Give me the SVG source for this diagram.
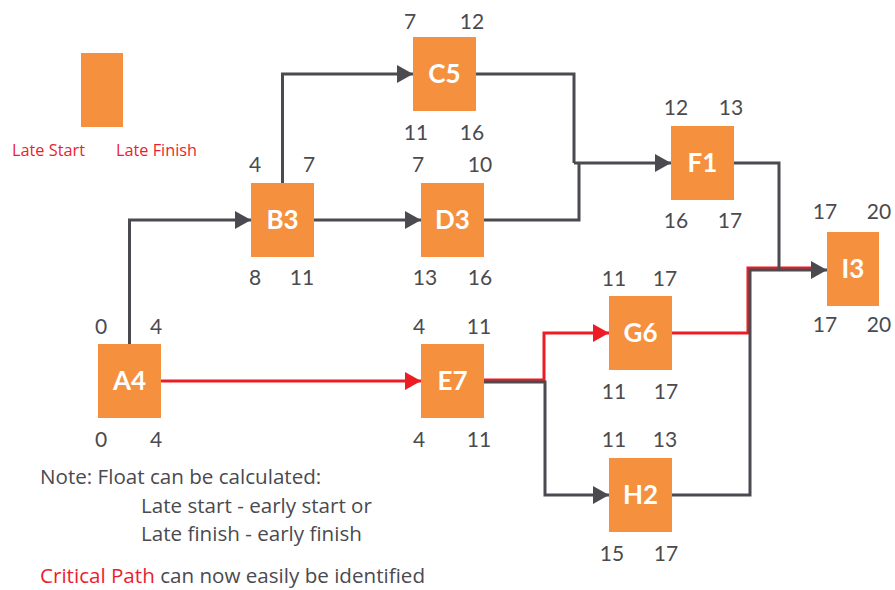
<svg xmlns="http://www.w3.org/2000/svg" width="895" height="590" viewBox="0 0 895 590">
<defs>
<style>
.box{fill:#F5903F}
.lbl{font-family:Lato,"Noto Sans",sans-serif;font-weight:bold;font-size:26px;fill:#fff;text-anchor:middle}
.num{font-family:Lato,"Noto Sans",sans-serif;font-size:21px;fill:#4a4a4f;text-anchor:middle}
.note{font-family:"Open Sans","Noto Sans",sans-serif;font-size:20.6px;fill:#4a4a4f}
.leg{font-family:"Open Sans","Noto Sans",sans-serif;font-size:16.3px;fill:#ED1C2E}
.c{fill:none;stroke:#4a4a50;stroke-width:3}
.cr{fill:none;stroke:#ED1C24;stroke-width:3}
</style>
<marker id="ah" markerWidth="16" markerHeight="18" refX="16" refY="9" orient="auto" markerUnits="userSpaceOnUse"><path d="M0,0 L16,9 L0,18 Z" fill="#4a4a50"/></marker>
<marker id="ahr" markerWidth="16" markerHeight="18" refX="16" refY="9" orient="auto" markerUnits="userSpaceOnUse"><path d="M0,0 L16,9 L0,18 Z" fill="#ED1C24"/></marker>
</defs>
<rect width="895" height="590" fill="#fff"/>
<g id="legend">
<rect class="box" x="81" y="53" width="42" height="74"/>
<text class="leg" x="12" y="156">Late Start</text>
<text class="leg" x="116" y="156">Late Finish</text>
</g>
<g id="connectors">
<path class="c" d="M129.5,344 V220 H251" marker-end="url(#ah)"/>
<path class="c" d="M282.5,183 V74 H413" marker-end="url(#ah)"/>
<path class="c" d="M314,220 H421" marker-end="url(#ah)"/>
<path class="c" d="M476,74 H574 V163"/>
<path class="c" d="M484,220 H579 V163"/>
<path class="c" d="M574,163 H671" marker-end="url(#ah)"/>
<path class="cr" d="M161,381 H421" marker-end="url(#ahr)"/>
<path class="cr" d="M484,380 H544 V333 H609" marker-end="url(#ahr)"/>
<path class="c" d="M484,382 H545 V495 H609" marker-end="url(#ah)"/>
<path class="cr" d="M672,333 H748 V268 H812"/>
<path class="c" d="M672,495 H750 V270 H827" marker-end="url(#ah)"/>
<path class="c" d="M734,163 H779 V269"/>
</g>
<g id="A4"><rect class="box" x="98" y="344" width="63" height="74"/><text class="lbl" x="129.5" y="390">A4</text>
<text class="num" x="101" y="334">0</text><text class="num" x="156" y="334">4</text><text class="num" x="101" y="447">0</text><text class="num" x="156" y="447">4</text></g>
<g id="B3"><rect class="box" x="251" y="183" width="63" height="74"/><text class="lbl" x="282.5" y="229">B3</text>
<text class="num" x="255" y="172">4</text><text class="num" x="309" y="172">7</text><text class="num" x="255" y="285">8</text><text class="num" x="302" y="285">11</text></g>
<g id="C5"><rect class="box" x="413" y="37" width="63" height="74"/><text class="lbl" x="444.5" y="83">C5</text>
<text class="num" x="410" y="29">7</text><text class="num" x="472" y="29">12</text><text class="num" x="416" y="140">11</text><text class="num" x="472" y="140">16</text></g>
<g id="D3"><rect class="box" x="421" y="183" width="63" height="74"/><text class="lbl" x="452.5" y="229">D3</text>
<text class="num" x="418" y="172">7</text><text class="num" x="480" y="172">10</text><text class="num" x="425" y="285">13</text><text class="num" x="480" y="285">16</text></g>
<g id="E7"><rect class="box" x="421" y="344" width="63" height="74"/><text class="lbl" x="452.5" y="390">E7</text>
<text class="num" x="419" y="334">4</text><text class="num" x="479" y="334">11</text><text class="num" x="419" y="447">4</text><text class="num" x="479" y="447">11</text></g>
<g id="F1"><rect class="box" x="671" y="126" width="63" height="74"/><text class="lbl" x="702.5" y="172">F1</text>
<text class="num" x="676" y="115">12</text><text class="num" x="731" y="115">13</text><text class="num" x="676" y="228">16</text><text class="num" x="730" y="228">17</text></g>
<g id="G6"><rect class="box" x="609" y="296" width="63" height="74"/><text class="lbl" x="640.5" y="342">G6</text>
<text class="num" x="614" y="286">11</text><text class="num" x="665" y="286">17</text><text class="num" x="614" y="399">11</text><text class="num" x="666" y="399">17</text></g>
<g id="H2"><rect class="box" x="609" y="458" width="63" height="74"/><text class="lbl" x="640.5" y="504">H2</text>
<text class="num" x="614" y="447">11</text><text class="num" x="665" y="447">13</text><text class="num" x="612" y="561">15</text><text class="num" x="666" y="561">17</text></g>
<g id="I3"><rect class="box" x="827" y="232" width="52" height="74"/><text class="lbl" x="853" y="278">I3</text>
<text class="num" x="825" y="219">17</text><text class="num" x="879" y="219">20</text><text class="num" x="825" y="332">17</text><text class="num" x="879" y="332">20</text></g>
<g id="note">
<text class="note" x="40" y="484">Note: Float can be calculated:</text>
<text class="note" x="141" y="513">Late start - early start or</text>
<text class="note" x="141" y="541">Late finish - early finish</text>
<text class="note" x="40" y="583"><tspan fill="#ED1C2E">Critical Path</tspan> can now easily be identified</text>
</g>
</svg>
